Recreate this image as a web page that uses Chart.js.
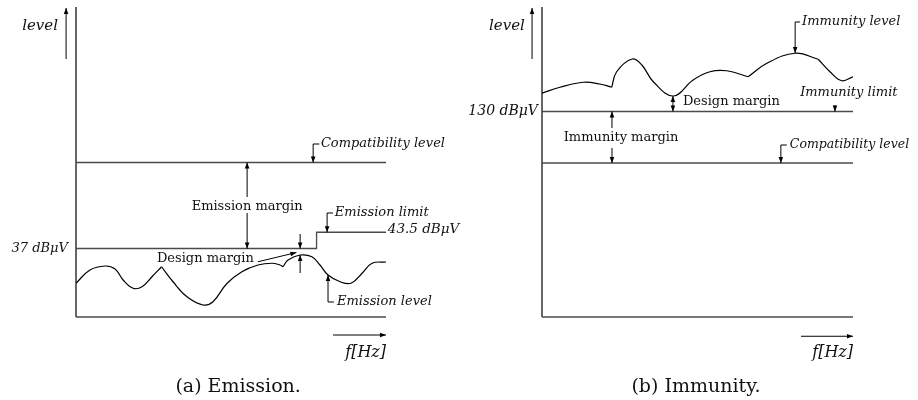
<!DOCTYPE html>
<html>
<head>
<meta charset="utf-8">
<script src="https://cdn.jsdelivr.net/npm/chart.js@4/dist/chart.umd.min.js"></script>
<style>
  html, body { margin: 0; padding: 0; background: #fff; }
  #wrap { position: relative; width: 918px; height: 400px; overflow: hidden; }
  canvas { display: block; position: absolute; top: 0; }
  #emission { left: 0; }
  #immunity { left: 459px; }
</style>
</head>
<body>
<div id="wrap">
  <canvas id="emission" width="500" height="400" style="width:500px;height:400px"></canvas>
  <canvas id="immunity" width="459" height="400" style="width:459px;height:400px"></canvas>
</div>
<script>
// ---- Emission panel (level in dBµV, frequency in relative units 0..100) ----
const emissionLimitFreq  = [0, 77.6, 77.6, 100];
const emissionLimitLevel = [37, 37, 43.5, 43.5];
const emissionCompatLevel = 71.4;

// emission level curve, split where it has sharp corners
const emissionFreqA  = [0, 4.5, 9.4, 12.6, 15.2, 18.4, 21.3, 24.5, 27.6];
const emissionLevelA = [23.1, 28.4, 30.0, 28.8, 24.4, 21.1, 21.7, 25.7, 29.7];
const emissionFreqB  = [27.6, 31.3, 35.8, 41.0, 44.2, 48.6, 53.5, 58.7, 63.2, 65.8, 66.8];
const emissionLevelB = [29.7, 23.7, 17.7, 14.4, 15.7, 22.9, 27.7, 30.4, 31.1, 30.4, 29.7];
const emissionFreqC  = [66.8, 68.4, 72.3, 76.1, 78.7, 81.3, 85.2, 88.7, 92.3, 95.5, 100];
const emissionLevelC = [29.7, 32.4, 34.4, 33.7, 30.4, 26.4, 23.7, 23.1, 27.1, 31.1, 31.6];

// ---- Immunity panel ----
const immunityLimitLevel = 130;
const immunityCompatLevel = 109.4;

const immunityFreqA  = [0, 5.8, 13.3, 18.6, 22.4];
const immunityLevelA = [137.3, 139.7, 141.7, 141.0, 139.7];
const immunityFreqB  = [22.4, 24.0, 29.0, 32.1, 35.8, 42.2, 48.6, 54.0, 59.4, 66.3];
const immunityLevelB = [139.7, 145.9, 151.0, 148.6, 141.9, 136.2, 142.6, 145.9, 146.3, 143.9];
const immunityFreqC  = [66.3, 72.3, 81.4, 88.8];
const immunityLevelC = [143.9, 149.3, 153.3, 150.9];
const immunityFreqD  = [88.8, 92.6, 96.4, 100];
const immunityLevelD = [150.9, 145.9, 142.3, 143.9];

const SERIF = '"DejaVu Serif", "Liberation Serif", serif';
const LINE_GREY = '#4a4a4a';

function pts(xs, ys) { return xs.map((x, i) => ({ x, y: ys[i] })); }
function flat(level) { return [{ x: 0, y: level }, { x: 100, y: level }]; }

function curveSet(xs, ys) {
  return {
    data: pts(xs, ys), borderColor: '#000', borderWidth: 1.2,
    pointRadius: 0, tension: 0.4, fill: false
  };
}
function levelSet(data) {
  return {
    data, borderColor: LINE_GREY, borderWidth: 1.3,
    pointRadius: 0, tension: 0, fill: false
  };
}

// annotation primitives, in data coordinates
const T = (x, y, text, o = {}) => ({ kind: 'text', x, y, text, ...o });
const A = (x1, y1, x2, y2) => ({ kind: 'arrow', x1, y1, x2, y2 });
const L = (x1, y1, x2, y2) => ({ kind: 'line', x1, y1, x2, y2 });

function diagramPlugin(items) {
  return {
    id: 'diagram',
    beforeDatasetsDraw(chart) {
      const { ctx, chartArea: a } = chart;
      ctx.save();
      ctx.lineWidth = 1.2;
      ctx.strokeStyle = '#000';
      ctx.beginPath(); ctx.moveTo(a.left, a.top - 1); ctx.lineTo(a.left, a.bottom); ctx.stroke();
      ctx.strokeStyle = LINE_GREY;
      ctx.lineWidth = 1.3;
      ctx.beginPath(); ctx.moveTo(a.left, a.bottom); ctx.lineTo(a.right, a.bottom); ctx.stroke();
      ctx.restore();
    },
    afterDatasetsDraw(chart) {
      const { ctx } = chart;
      const sx = chart.scales.x, sy = chart.scales.y;
      const px = v => sx.getPixelForValue(v), py = v => sy.getPixelForValue(v);
      ctx.save();
      ctx.strokeStyle = '#000';
      ctx.fillStyle = '#000';
      ctx.lineWidth = 1;
      for (const it of items) {
        if (it.kind === 'text') {
          ctx.font = (it.italic ? 'italic ' : '') + (it.size || 13) + 'px ' + SERIF;
          ctx.textAlign = it.align || 'left';
          ctx.textBaseline = 'middle';
          ctx.fillStyle = '#111';
          ctx.fillText(it.text, px(it.x), py(it.y));
          ctx.fillStyle = '#000';
        } else {
          const x1 = px(it.x1), y1 = py(it.y1), x2 = px(it.x2), y2 = py(it.y2);
          ctx.beginPath(); ctx.moveTo(x1, y1); ctx.lineTo(x2, y2); ctx.stroke();
          if (it.kind === 'arrow') {
            const ang = Math.atan2(y2 - y1, x2 - x1);
            const len = 6, half = 2.3;
            ctx.beginPath();
            ctx.moveTo(x2, y2);
            ctx.lineTo(x2 - len * Math.cos(ang) + half * Math.sin(ang), y2 - len * Math.sin(ang) - half * Math.cos(ang));
            ctx.lineTo(x2 - len * Math.cos(ang) - half * Math.sin(ang), y2 - len * Math.sin(ang) + half * Math.cos(ang));
            ctx.closePath();
            ctx.fill();
          }
        }
      }
      ctx.restore();
    }
  };
}

function baseOptions(yMin, yMax, padding) {
  return {
    responsive: false, animation: false, devicePixelRatio: 1,
    layout: { padding },
    scales: {
      x: { type: 'linear', min: 0, max: 100, display: false },
      y: { type: 'linear', min: yMin, max: yMax, display: false }
    },
    plugins: { legend: { display: false }, tooltip: { enabled: false } },
    events: []
  };
}

// (a) Emission
const emissionNotes = [
  T(-5.8, 126, 'level', { align: 'right', italic: true, size: 15 }),
  A(-3.2, 112.8, -3.2, 133.2),
  T(-2.6, 37, '37 dBμV', { align: 'right', italic: true }),
  T(100.6, 44.6, '43.5 dBμV', { italic: true, size: 13.5 }),
  A(55.2, 57.6, 55.2, emissionCompatLevel),
  T(55.2, 53.6, 'Emission margin', { align: 'center' }),
  A(55.2, 51.2, 55.2, 37),
  L(78.5, 78.8, 76.5, 78.8), A(76.5, 78.8, 76.5, emissionCompatLevel),
  T(79, 79, 'Compatibility level', { italic: true }),
  L(82.9, 51.2, 81, 51.2), A(81, 51.2, 81, 43.5),
  T(83.5, 51.2, 'Emission limit', { italic: true }),
  A(72.3, 42.8, 72.3, 37), A(72.3, 27.2, 72.3, 34.4),
  T(26.1, 32.8, 'Design margin'),
  A(58.7, 31.7, 71.1, 35.4),
  L(83.2, 15.6, 81.3, 15.6), A(81.3, 15.6, 81.3, 26.4),
  T(84.2, 15.8, 'Emission level', { italic: true }),
  A(82.9, 2.4, 100, 2.4),
  T(100, -4.8, 'f[Hz]', { align: 'right', italic: true, size: 16 }),
  T(52.3, -18.4, '(a) Emission.', { align: 'center', size: 19 })
];

new Chart(document.getElementById('emission'), {
  type: 'line',
  data: {
    datasets: [
      levelSet(flat(emissionCompatLevel)),
      levelSet(pts(emissionLimitFreq, emissionLimitLevel)),
      curveSet(emissionFreqA, emissionLevelA),
      curveSet(emissionFreqB, emissionLevelB),
      curveSet(emissionFreqC, emissionLevelC)
    ]
  },
  options: baseOptions(9.6, 133.2, { left: 76, right: 114, top: 8, bottom: 83 }),
  plugins: [diagramPlugin(emissionNotes)]
});

// (b) Immunity
const immunityNotes = [
  T(-5.5, 164.2, 'level', { align: 'right', italic: true, size: 15 }),
  A(-3.2, 151, -3.2, 171.4),
  T(-1.3, 130, '130 dBμV', { align: 'right', italic: true, size: 14 }),
  L(83.0, 165.8, 81.4, 165.8), A(81.4, 165.8, 81.4, 153.4),
  T(83.6, 166, 'Immunity level', { italic: true }),
  A(42.1, 133.1, 42.1, 136.2), A(42.1, 133.1, 42.1, immunityLimitLevel),
  T(45.3, 133.8, 'Design margin'),
  T(83, 137.4, 'Immunity limit', { italic: true }),
  A(94.2, 132.6, 94.2, immunityLimitLevel),
  A(22.5, 123.4, 22.5, immunityLimitLevel),
  T(25.4, 119.4, 'Immunity margin', { align: 'center' }),
  A(22.5, 115.4, 22.5, immunityCompatLevel),
  L(78.7, 116.6, 76.8, 116.6), A(76.8, 116.6, 76.8, immunityCompatLevel),
  T(79.7, 116.8, 'Compatibility level', { italic: true, size: 12.5 }),
  A(83.3, 40.1, 100, 40.1),
  T(100, 33.4, 'f[Hz]', { align: 'right', italic: true, size: 16 }),
  T(49.5, 19.8, '(b) Immunity.', { align: 'center', size: 19 })
];

new Chart(document.getElementById('immunity'), {
  type: 'line',
  data: {
    datasets: [
      levelSet(flat(immunityLimitLevel)),
      levelSet(flat(immunityCompatLevel)),
      curveSet(immunityFreqA, immunityLevelA),
      curveSet(immunityFreqB, immunityLevelB),
      curveSet(immunityFreqC, immunityLevelC),
      curveSet(immunityFreqD, immunityLevelD)
    ]
  },
  options: baseOptions(47.8, 171.4, { left: 83, right: 65, top: 8, bottom: 83 }),
  plugins: [diagramPlugin(immunityNotes)]
});
</script>
</body>
</html>
